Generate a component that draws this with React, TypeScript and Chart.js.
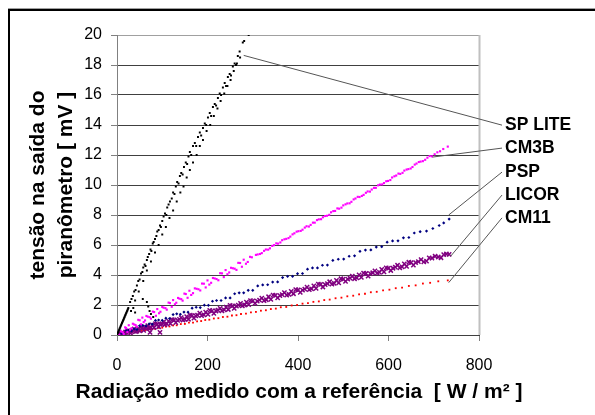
import React, { useEffect, useRef } from 'react';
import { Chart, registerables } from 'chart.js';

Chart.register(...registerables);

const FONT = 'Arial, "Liberation Sans", Helvetica, sans-serif';

const xTickValues = [0, 200, 400, 600, 800];
const yTickValues = [0, 2, 4, 6, 8, 10, 12, 14, 16, 18, 20];

const xAxisTitle = 'Radiação medido com a referência  [ W / m² ]';
const yAxisTitle = ['tensão na saída do', 'piranômetro [ mV ]'];

const seriesNames = ['SP LITE', 'CM3B', 'PSP', 'LICOR', 'CM11'];
const seriesColors = ['#000000', '#FF00FF', '#000080', '#800080', '#FF0000'];

const spLiteX = [0,1,2,3,4,5,6,7,8,9,10,11,12,13,14,15,16,17,18,19,20,21,22,23,24,25,29,32,35,38,41,44,47,50,53,56,58,61,63,66,68,71,74,76,79,81,84,87,89,92,95,97,100,103,106,109,111,114,117,121,124,127,130,133,136,139,142,145,148,152,155,158,161,164,168,172,175,179,183,186,190,194,197,201,205,208,212,216,219,223,227,230,234,238,241,245,249,252,256,260,263,267,271,278,281,291,31,36,40,57,66,69,72,75,80,
  40,48,58,66,75,84,92,100,108,116,124,132,140,147,154,161,168,176,183,190,198,206,214,222,229,237,244,251,258,265,272];
const spLiteY = [0,0.08,0.15,0.22,0.3,0.36,0.44,0.5,0.58,0.65,0.72,0.8,0.86,0.94,1.0,1.08,1.15,1.22,1.3,1.36,1.44,1.5,1.58,1.64,1.72,1.8,2.2,2.4,2.6,2.9,3.0,3.3,3.6,3.7,4.1,4.2,4.5,4.7,4.6,5.0,5.2,5.4,5.7,5.6,6.1,6.2,6.4,6.6,6.9,7.0,7.3,7.2,7.6,7.9,8.1,8.0,8.5,8.7,8.9,9.1,9.5,9.4,9.9,10.2,10.1,10.6,10.8,10.7,11.2,11.5,11.4,11.9,12.2,12.0,12.6,12.8,12.6,13.2,13.5,13.3,13.8,14.1,14.0,14.5,14.8,14.6,15.2,15.4,15.3,15.8,16.1,16.0,16.5,16.8,16.6,17.2,17.4,17.3,17.9,18.1,18.0,18.6,18.9,19.5,19.6,20.0,1.6,1.8,1.5,2.4,2.2,1.9,1.6,1.4,1.2,
  2.3,2.9,3.6,4.3,4.9,5.5,6.0,6.7,7.2,7.8,8.3,8.9,9.5,9.9,10.5,11.0,11.5,12.0,12.6,13.0,13.6,14.0,14.6,15.1,15.6,16.1,16.6,17.0,17.6,18.1,18.5];

const cm3bX = [0,5,10,15,20,26,32,38,44,50,56,62,68,75,82,89,96,103,110,117,124,131,138,145,152,160,168,176,184,192,200,208,216,224,232,240,248,256,264,272,280,289,298,307,316,325,334,343,352,361,370,379,388,397,406,415,424,433,442,451,460,469,478,487,496,505,514,523,532,541,550,559,568,577,586,595,604,613,622,631,640,649,658,667,676,686,696,708,721,731,
  311,320,329,338,347,356,365,374,383,392,401,410,419,428,437,446,455,464,473,482,491,500,509,518,527,536,545,554,563,572,581,590,599,608,617,626,635,644,653,662,671,681,691,702,714,
  3,8,13,18,23,29,35,41,47,53,59,65,72,79,86,93,100,107,114,121,128,135,142,149,156,164,172,180,188,196,204,212,220,228,236,244,252,260,268,276,285,294];
const cm3bY = [0,0.02,0.22,0.06,0.46,0.65,0.45,0.70,0.56,0.98,1.16,0.97,1.22,1.09,1.53,1.73,1.55,1.82,1.69,2.13,2.33,2.15,2.42,2.29,2.73,2.95,2.79,3.08,2.97,3.42,3.64,3.48,3.77,3.65,4.11,4.33,4.17,4.45,4.34,4.80,5.02,4.87,5.18,5.34,5.40,5.61,5.69,5.94,6.11,6.17,6.38,6.46,6.71,6.89,6.94,7.16,7.23,7.49,7.66,7.72,7.93,8.01,8.26,8.44,8.49,8.71,8.78,9.04,9.21,9.27,9.48,9.56,9.81,9.98,10.04,10.25,10.33,10.58,10.76,10.81,11.03,11.10,11.36,11.53,11.59,11.82,11.91,12.18,12.40,12.56,
  5.37,5.46,5.70,5.78,5.99,6.09,6.32,6.41,6.56,6.78,6.92,7.02,7.25,7.34,7.49,7.71,7.85,7.95,8.18,8.27,8.42,8.64,8.77,8.88,9.10,9.20,9.34,9.57,9.70,9.81,10.03,10.13,10.27,10.50,10.63,10.74,10.96,11.06,11.20,11.43,11.56,11.68,11.93,12.05,12.25,
  0.00,0.29,0.17,0.51,0.20,0.35,0.75,0.66,1.01,0.71,0.86,1.27,1.19,1.56,1.28,1.45,1.87,1.79,2.16,1.88,2.05,2.47,2.39,2.76,2.48,2.67,3.11,3.05,3.43,3.17,3.36,3.80,3.73,4.12,3.86,4.05,4.48,4.42,4.81,4.55,4.75,5.21];

const pspX = [0,5,10,15,20,26,32,38,44,50,57,64,71,78,85,92,100,108,116,124,132,140,148,157,166,175,184,193,202,211,220,230,240,250,260,270,280,290,300,311,322,333,344,355,366,377,388,399,410,421,432,443,454,465,477,489,501,513,525,537,549,561,573,585,597,609,621,633,645,657,670,684,698,712,722,734];
const pspY = [0,0,0.12,0.07,0.30,0.33,0.28,0.41,0.37,0.61,0.64,0.60,0.74,0.72,0.97,1.00,0.97,1.12,1.10,1.36,1.41,1.38,1.53,1.52,1.79,1.85,1.83,1.99,1.98,2.25,2.30,2.30,2.47,2.47,2.75,2.81,2.81,2.98,2.98,3.27,3.34,3.35,3.53,3.54,3.83,3.91,3.91,4.09,4.10,4.39,4.47,4.47,4.65,4.66,4.97,5.05,5.06,5.25,5.28,5.58,5.66,5.67,5.86,5.89,6.19,6.27,6.28,6.48,6.50,6.80,6.89,6.93,7.10,7.30,7.47,7.73];

const licorX = [0,4,8,12,17,22,27,32,38,44,50,56,62,68,75,82,89,96,103,110,118,126,134,142,150,158,166,174,183,192,201,210,219,228,237,246,255,264,273,282,291,300,310,320,330,340,350,360,370,380,390,400,410,420,430,440,450,460,470,480,490,500,510,520,530,540,550,560,570,580,590,600,610,620,630,640,650,660,672,684,696,710,722,734,73,95,
  2,6,10,14,19,24,30,35,41,47,53,59,65,71,78,85,92,99,106,114,122,130,138,146,154,162,170,178,187,196,205,214,223,232,241,250,259,268,277,286,295,305,315,325,335,345,355,365,375,385,395,405,415,425,435,445,455,465,475,485,495,505,515,525,535,545,555,565,575,585,595,605,615,625,635,645,655,666,678,690,703,716,728];
const licorY = [0,0.03,0.05,0.10,0.11,0.06,0.28,0.23,0.40,0.26,0.27,0.49,0.45,0.62,0.49,0.50,0.73,0.70,0.87,0.74,0.76,1.00,0.98,1.16,1.04,1.05,1.29,1.27,1.46,1.34,1.37,1.61,1.60,1.78,1.67,1.70,1.94,1.93,2.11,2.00,2.02,2.27,2.26,2.46,2.35,2.38,2.64,2.63,2.82,2.71,2.75,3.00,2.99,3.19,3.08,3.11,3.37,3.36,3.55,3.44,3.48,3.73,3.72,3.92,3.81,3.84,4.10,4.09,4.28,4.17,4.21,4.46,4.45,4.65,4.54,4.57,4.83,4.82,5.03,4.93,5.12,5.20,5.36,5.38,0.18,0.18,
  0.05,0.02,0.10,0.05,0.20,0.28,0.12,0.29,0.22,0.44,0.53,0.31,0.50,0.44,0.67,0.76,0.55,0.75,0.69,0.93,1.03,0.83,1.04,0.99,1.22,1.32,1.12,1.33,1.29,1.53,1.64,1.44,1.66,1.61,1.86,1.97,1.77,1.99,1.94,2.19,2.29,2.11,2.33,2.29,2.55,2.66,2.47,2.69,2.66,2.91,3.02,2.84,3.06,3.02,3.28,3.39,3.20,3.42,3.39,3.64,3.75,3.57,3.79,3.75,4.01,4.12,3.93,4.15,4.12,4.37,4.48,4.30,4.52,4.48,4.74,4.85,4.66,4.89,4.87,5.14,5.25,5.15,5.40];

const cm11X = [0,5,10,16,22,28,34,41,48,55,62,69,76,84,92,100,108,116,124,132,141,150,159,168,177,186,195,204,214,224,234,244,254,264,274,285,296,307,318,329,340,351,362,374,386,398,410,422,434,446,458,470,483,496,509,522,535,548,561,574,588,602,616,630,645,660,676,692,710,731];
const cm11Y = [0,0.03,0.06,0.07,0.12,0.13,0.18,0.20,0.25,0.27,0.33,0.34,0.40,0.41,0.48,0.49,0.56,0.57,0.64,0.65,0.73,0.74,0.82,0.83,0.91,0.93,1.00,1.02,1.10,1.12,1.20,1.22,1.30,1.32,1.40,1.43,1.51,1.54,1.62,1.65,1.73,1.76,1.85,1.87,1.97,2.00,2.09,2.12,2.21,2.24,2.33,2.36,2.45,2.49,2.58,2.62,2.71,2.75,2.85,2.88,2.98,3.02,3.12,3.16,3.27,3.31,3.43,3.48,3.58,3.64];

// leader lines: start point on the data (data units), label level (data units)
const leaderFromX = [280, 697, 733, 737, 733];
const leaderFromY = [18.64, 11.86, 8.0, 5.24, 3.49];
const labelLevelY = [13.99, 12.46, 10.86, 9.33, 7.81];

const pairs = (xs: number[], ys: number[]) =>
  xs.map((x, i) => ({ x, y: ys[i] })).filter((p) => p.y !== undefined);

const frameAndLabels = {
  id: 'frameAndLabels',
  afterDatasetsDraw(chart: any) {
    const { ctx, chartArea, scales } = chart;
    const xs = scales.x;
    const ys = scales.y;
    ctx.save();
    // plot area right border
    ctx.strokeStyle = '#c0c0c0';
    ctx.lineWidth = 2;
    ctx.beginPath();
    ctx.moveTo(chartArea.right + 0.5, chartArea.top);
    ctx.lineTo(chartArea.right + 0.5, chartArea.bottom);
    ctx.stroke();
    // leader lines + labels
    ctx.strokeStyle = '#555555';
    ctx.lineWidth = 1;
    ctx.fillStyle = '#000000';
    ctx.font = 'bold 17.5px ' + FONT;
    ctx.textAlign = 'left';
    ctx.textBaseline = 'middle';
    const endX = chartArea.right + 23;
    seriesNames.forEach((name, i) => {
      const x0 = xs.getPixelForValue(leaderFromX[i]);
      const y0 = ys.getPixelForValue(leaderFromY[i]);
      const y1 = ys.getPixelForValue(labelLevelY[i]);
      ctx.beginPath();
      ctx.moveTo(x0, y0);
      ctx.lineTo(endX, y1);
      ctx.stroke();
      ctx.fillText(name, endX + 3, y1);
    });
    // x axis title (drawn without width squeezing)
    ctx.font = 'bold 21px ' + FONT;
    ctx.textAlign = 'center';
    ctx.fillText(xAxisTitle, (chartArea.left + chartArea.right) / 2 + 1, 392);
    ctx.restore();
  },
  afterDraw(chart: any) {
    const { ctx } = chart;
    ctx.save();
    ctx.fillStyle = '#000000';
    ctx.fillRect(8, 9, 2, 406);
    ctx.fillRect(8, 9, 587, 2);
    ctx.fillStyle = '#a0a0a0';
    ctx.fillRect(8, 8, 587, 1);
    ctx.restore();
  },
};

export default function App() {
  const ref = useRef<HTMLCanvasElement | null>(null);

  useEffect(() => {
    if (!ref.current) return;
    const mk = (i: number, data: any[], style: any, radius: number, bw: number) => ({
      label: seriesNames[i],
      data,
      showLine: false,
      pointStyle: style,
      pointRadius: radius,
      pointHoverRadius: radius,
      backgroundColor: seriesColors[i],
      borderColor: seriesColors[i],
      pointBorderWidth: bw,
    });
    const chart = new Chart(ref.current, {
      type: 'scatter',
      data: {
        datasets: [
          mk(0, pairs(spLiteX, spLiteY), 'rect', 1.4, 0),
          mk(1, pairs(cm3bX, cm3bY), 'rect', 1.5, 0),
          mk(2, pairs(pspX, pspY), 'rectRot', 1.6, 0),
          mk(3, pairs(licorX, licorY), 'crossRot', 3, 1.5),
          mk(4, pairs(cm11X, cm11Y), 'rect', 1.3, 0),
        ],
      },
      plugins: [frameAndLabels],
      options: {
        responsive: false,
        animation: false,
        events: [],
        layout: { padding: { top: 35, right: 116, left: 0, bottom: 0 } },
        plugins: {
          legend: { display: false },
          tooltip: { enabled: false },
          title: { display: false },
        },
        scales: {
          x: {
            type: 'linear',
            min: 0,
            max: 800,
            afterFit: (s: any) => { s.height = 80; },
            afterBuildTicks: (s: any) => { s.ticks = xTickValues.map((v) => ({ value: v })); },
            ticks: { color: '#000', font: { family: FONT, size: 16 }, padding: 15, maxRotation: 0 },
            grid: { drawOnChartArea: false, drawTicks: true, tickLength: 6, tickColor: '#808080' },
            border: { color: '#404040', width: 1 },
            title: { display: false },
          },
          y: {
            type: 'linear',
            min: 0,
            max: 20,
            afterFit: (s: any) => { s.width = 117; },
            afterBuildTicks: (s: any) => { s.ticks = yTickValues.map((v) => ({ value: v })); },
            ticks: { color: '#000', font: { family: FONT, size: 16 }, padding: 9 },
            grid: {
              color: (c: any) => (c.tick && c.tick.value === 20 ? '#a0a0a0' : '#404040'),
              drawTicks: true,
              tickLength: 6,
              tickColor: '#808080',
            },
            border: { color: '#808080', width: 1 },
            title: {
              display: true,
              text: yAxisTitle,
              color: '#000',
              font: { family: FONT, size: 21, weight: 'bold', lineHeight: 28 / 21 },
              padding: { top: 24, bottom: 0 },
            },
          },
        },
      },
    } as any);
    return () => chart.destroy();
  }, []);

  return (
    <div style={{ position: 'absolute', left: 0, top: 0, width: 595, height: 415, background: '#fff' }}>
      <canvas ref={ref} width={595} height={415} style={{ display: 'block' }} />
    </div>
  );
}
